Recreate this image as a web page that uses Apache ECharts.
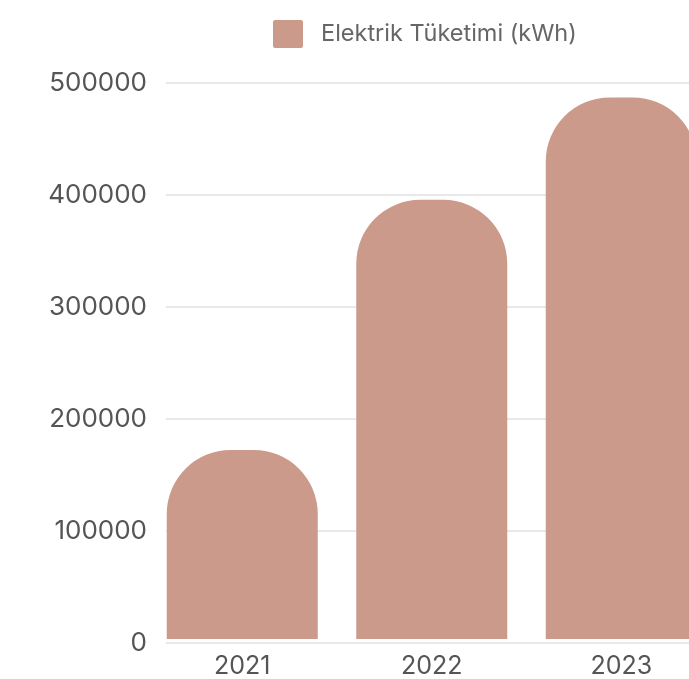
<!DOCTYPE html>
<html>
<head>
<meta charset="utf-8">
<script src="https://cdn.jsdelivr.net/npm/echarts@6/dist/echarts.min.js"></script>
<style>
  html, body { margin: 0; padding: 0; background: #ffffff; overflow: hidden; }
  #chart { width: 760px; height: 679px; }
</style>
</head>
<body>
<div id="chart"></div>
<script>
// Yearly electricity consumption
const years = ['2021', '2022', '2023'];
const consumption = [170000, 395000, 487000];
const seriesName = 'Elektrik Tüketimi (kWh)';
const yTicks = { min: 0, max: 500000, interval: 100000 };

const chart = echarts.init(document.getElementById('chart'), null, { renderer: 'canvas' });

const labelFont = 'Inter';
const plotTop = 83;
const plotBottom = 36;

chart.setOption({
  animation: false,
  textStyle: { fontFamily: labelFont },
  legend: {
    left: 268,
    top: 15,
    itemWidth: 30,
    itemHeight: 28,
    icon: 'path://M2,0 H28 A2,2 0 0 1 30,2 V26 A2,2 0 0 1 28,28 H2 A2,2 0 0 1 0,26 V2 A2,2 0 0 1 2,0 Z',
    textStyle: { color: '#666666', fontSize: 23.5, fontFamily: labelFont, padding: [0, 0, 0, 13] },
    data: [seriesName]
  },
  // grid 0: value scale with its gridlines; grid 1: category bands for the bars
  grid: [
    { left: 166, right: 44, top: plotTop, bottom: plotBottom },
    { left: 147.5, right: 44, top: plotTop, bottom: plotBottom }
  ],
  xAxis: [
    { type: 'value', gridIndex: 0, show: false },
    {
      type: 'category',
      gridIndex: 1,
      data: years,
      axisTick: { show: false },
      axisLine: { show: false },
      axisLabel: { color: '#555555', fontSize: 25, margin: 15 }
    }
  ],
  yAxis: [
    {
      type: 'value',
      gridIndex: 0,
      min: yTicks.min,
      max: yTicks.max,
      interval: yTicks.interval,
      axisLine: { show: false },
      axisTick: { show: false },
      splitLine: { lineStyle: { color: '#e0e0e0', width: 1.5 } },
      axisLabel: {
        color: '#555555',
        fontSize: 26,
        margin: 19,
        formatter: (v) => String(v)
      }
    },
    {
      type: 'value',
      gridIndex: 1,
      min: yTicks.min,
      max: yTicks.max,
      interval: yTicks.interval,
      show: false,
      splitLine: { show: false }
    }
  ],
  series: [{
    name: seriesName,
    type: 'bar',
    xAxisIndex: 1,
    yAxisIndex: 1,
    data: consumption,
    barWidth: 151,
    itemStyle: {
      color: '#cc9a8a',
      borderRadius: [64, 64, 0, 0]
    }
  }]
});
</script>
</body>
</html>
